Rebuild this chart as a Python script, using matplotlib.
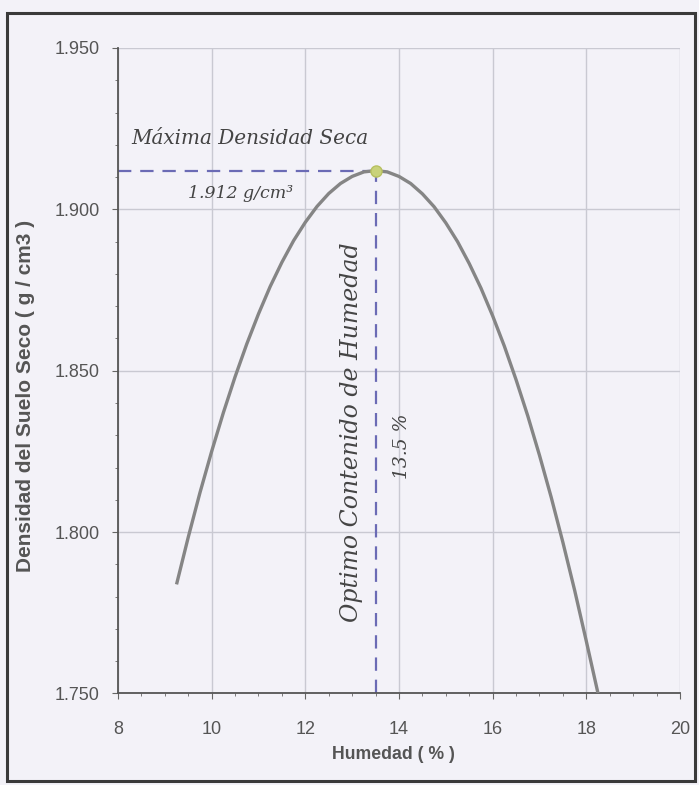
import numpy as np
import matplotlib.pyplot as plt
from matplotlib.ticker import MultipleLocator, FormatStrFormatter
from matplotlib.patches import Rectangle

# curva de compactacion
humedad = [9.25, 9.5, 9.75, 10.0, 10.25, 10.5, 10.75, 11.0, 11.25, 11.5, 11.75,
           12.0, 12.25, 12.5, 12.75, 13.0, 13.25, 13.5, 13.75, 14.0, 14.25,
           14.5, 14.75, 15.0, 15.25, 15.5, 15.75, 16.0, 16.25, 16.5, 16.75,
           17.0, 17.25, 17.5, 17.75, 18.0, 18.25]
densidad = [1.7838, 1.7984, 1.8122, 1.8250, 1.8370, 1.8481, 1.8583, 1.8676, 1.8761,
            1.8836, 1.8903, 1.8960, 1.9009, 1.9049, 1.9080, 1.9102, 1.9116, 1.9120,
            1.9116, 1.9102, 1.9080, 1.9048, 1.9008, 1.8958, 1.8900, 1.8832, 1.8756,
            1.8670, 1.8576, 1.8472, 1.8360, 1.8238, 1.8108, 1.7968, 1.7820, 1.7662,
            1.7500]

mds = 1.912   # maxima densidad seca
och = 13.5    # optimo contenido de humedad

bg = '#f3f2f8'
txt = '#555555'
sans = ['Liberation Sans', 'DejaVu Sans']

fig = plt.figure(figsize=(6.99, 7.85), dpi=100, facecolor=bg)
ax = fig.add_axes([0.1688, 0.1166, 0.804, 0.8223], facecolor=bg)

# marco exterior
fig.patches.append(Rectangle((0.010, 0.005), 0.984, 0.979, transform=fig.transFigure,
                             fill=False, edgecolor='#3a3a3a', linewidth=2.2))

ax.plot(humedad, densidad, color='#858585', lw=2.4, solid_capstyle='butt', zorder=3)
ax.plot([8, och], [mds, mds], color='#6b6bb5', lw=1.6, dashes=(6, 4), zorder=2)
ax.plot([och, och], [1.75, mds], color='#6b6bb5', lw=1.6, dashes=(6, 4), zorder=2)
ax.plot([och], [mds], 'o', ms=8, color='#c9d27a', mec='#b7c060', zorder=4)

ax.set_xlim(8, 20)
ax.set_ylim(1.75, 1.95)
ax.xaxis.set_major_locator(MultipleLocator(2))
ax.xaxis.set_minor_locator(MultipleLocator(0.5))
ax.yaxis.set_major_locator(MultipleLocator(0.05))
ax.yaxis.set_minor_locator(MultipleLocator(0.01))
ax.yaxis.set_major_formatter(FormatStrFormatter('%.3f'))

ax.grid(True, which='major', color='#c9c9d2', lw=1.0)
ax.set_axisbelow(True)
for s in ['top', 'right']:
    ax.spines[s].set_visible(False)
for s in ['left', 'bottom']:
    ax.spines[s].set_color('#555555')
    ax.spines[s].set_linewidth(1.3)

ax.tick_params(which='both', direction='out', colors='#666666', labelcolor=txt,
               labelsize=13)
ax.tick_params(which='major', length=4)
ax.tick_params(which='minor', length=2.5)
ax.tick_params(axis='x', which='major', pad=16)
ax.tick_params(axis='y', which='major', pad=9)
for lab in ax.get_xticklabels() + ax.get_yticklabels():
    lab.set_family(sans)

ax.set_xlabel('Humedad ( % )', fontsize=12.7, fontweight='bold', color=txt,
              family=sans)
ax.xaxis.set_label_coords(0.49, -0.082)
ax.set_ylabel('Densidad del Suelo Seco ( g / cm3 )', fontsize=15, fontweight='bold',
              color=txt, family=sans)
ax.yaxis.set_label_coords(-0.148, 0.461)

hand = dict(family='DejaVu Serif', style='italic', color='#444444')
ax.text(8.28, 1.9218, 'Máxima Densidad Seca', fontsize=14.4, va='center', ha='left', **hand)
ax.text(10.62, 1.905, '1.912 g/cm³', fontsize=12.5, va='center', ha='center', **hand)
ax.text(12.98, 1.831, 'Optimo Contenido de Humedad', fontsize=17, rotation=90,
        va='center', ha='center', **hand)
ax.text(14.06, 1.8266, '13.5 %', fontsize=13.5, rotation=90, va='center', ha='center', **hand)

fig.savefig('out.png', dpi=100, facecolor=bg)
